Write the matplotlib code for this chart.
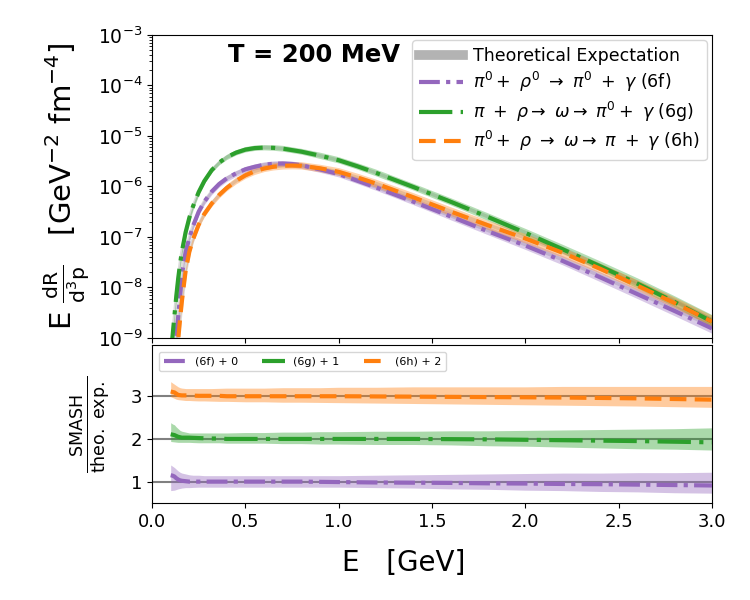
import numpy as np
import matplotlib
matplotlib.use("Agg")
import matplotlib.pyplot as plt
from matplotlib.lines import Line2D

# ---------------- data ----------------
E = [0.10, 0.11, 0.12, 0.13, 0.14, 0.15, 0.16, 0.18, 0.20, 0.22, 0.25, 0.28,
     0.32, 0.36, 0.40, 0.45, 0.50, 0.55, 0.60, 0.65, 0.70, 0.75, 0.80, 0.90,
     1.00, 1.10, 1.20, 1.40, 1.60, 1.80, 2.00, 2.20, 2.40, 2.60, 2.80, 3.00]

# log10 of theoretical rate E dR/d^3p
log_theo_6f = [-10.5, -9.9, -9.4, -9.0, -8.6, -8.2, -7.75, -7.3, -7.02, -6.78,
               -6.50, -6.30, -6.10, -5.95, -5.84, -5.74, -5.66, -5.61, -5.57,
               -5.55, -5.545, -5.555, -5.58, -5.66, -5.75, -5.88, -6.01, -6.29,
               -6.58, -6.87, -7.15, -7.45, -7.77, -8.10, -8.43, -8.77]
log_theo_6g = [-9.4, -9.0, -8.6, -8.2, -7.85, -7.55, -7.3, -6.92, -6.63, -6.40,
               -6.12, -5.90, -5.68, -5.53, -5.42, -5.33, -5.27, -5.24, -5.23,
               -5.235, -5.25, -5.28, -5.31, -5.39, -5.48, -5.60, -5.73, -6.01,
               -6.30, -6.60, -6.91, -7.23, -7.56, -7.90, -8.26, -8.64]
log_theo_6h = [-11.0, -10.5, -10.0, -9.5, -9.05, -8.65, -8.28, -7.68, -7.30,
               -7.05, -6.76, -6.55, -6.34, -6.17, -6.03, -5.89, -5.78, -5.70,
               -5.645, -5.61, -5.59, -5.585, -5.59, -5.64, -5.71, -5.82, -5.94,
               -6.21, -6.49, -6.76, -7.02, -7.30, -7.61, -7.94, -8.28, -8.64]

# SMASH / theory ratio and its error band
ratio_6f = [1.15, 1.14, 1.12, 1.08, 1.05, 1.03, 1.02, 1.01, 1.0, 1.0,
            1.0, 1.0, 1.0, 1.0, 1.0, 1.0, 1.0, 1.0, 1.0, 1.0, 1.0, 1.0, 1.0,
            0.995, 0.99, 0.985, 0.98, 0.975, 0.97, 0.96, 0.955, 0.945, 0.94,
            0.93, 0.92, 0.91]
hi_6f = [1.39, 1.36, 1.33, 1.29, 1.25, 1.22, 1.20, 1.18, 1.16, 1.15,
         1.15, 1.14, 1.14, 1.14, 1.14, 1.14, 1.14, 1.14, 1.14, 1.14, 1.14,
         1.14, 1.14, 1.14, 1.14, 1.145, 1.15, 1.16, 1.17, 1.18, 1.19, 1.20,
         1.20, 1.21, 1.21, 1.22]
lo_6f = [0.79, 0.795, 0.80, 0.815, 0.83, 0.84, 0.85, 0.86, 0.86, 0.865,
         0.87, 0.87, 0.87, 0.87, 0.87, 0.87, 0.87, 0.87, 0.87, 0.87, 0.87,
         0.87, 0.87, 0.87, 0.87, 0.865, 0.86, 0.85, 0.83, 0.82, 0.80, 0.79,
         0.77, 0.76, 0.74, 0.73]

ratio_6g = [1.11, 1.10, 1.09, 1.07, 1.05, 1.04, 1.03, 1.03, 1.03, 1.025,
            1.02, 1.015, 1.01, 1.01, 1.0, 1.0, 1.0, 1.0, 1.0, 1.0, 1.0, 1.0,
            1.0, 1.0, 1.0, 1.0, 1.0, 1.0, 0.995, 0.99, 0.98, 0.97, 0.96, 0.95,
            0.935, 0.92]
hi_6g = [1.38, 1.35, 1.33, 1.28, 1.24, 1.20, 1.18, 1.16, 1.14, 1.14,
         1.14, 1.14, 1.14, 1.14, 1.14, 1.145, 1.15, 1.15, 1.15, 1.155, 1.16,
         1.16, 1.16, 1.17, 1.17, 1.175, 1.18, 1.18, 1.19, 1.19, 1.20, 1.21,
         1.22, 1.23, 1.24, 1.26]
lo_6g = [0.94, 0.935, 0.93, 0.925, 0.92, 0.92, 0.92, 0.92, 0.92, 0.915,
         0.91, 0.91, 0.91, 0.91, 0.90, 0.90, 0.90, 0.90, 0.90, 0.895, 0.89,
         0.89, 0.89, 0.88, 0.88, 0.875, 0.87, 0.87, 0.86, 0.84, 0.83, 0.81,
         0.79, 0.77, 0.76, 0.74]

ratio_6h = [1.11, 1.10, 1.09, 1.06, 1.03, 1.025, 1.02, 1.02, 1.02, 1.015,
            1.01, 1.01, 1.01, 1.01, 1.0, 1.0, 1.0, 1.0, 1.0, 1.0, 1.0, 1.0,
            1.0, 1.0, 1.0, 0.998, 0.995, 0.99, 0.985, 0.98, 0.975, 0.97, 0.96,
            0.95, 0.935, 0.92]
hi_6h = [1.34, 1.31, 1.28, 1.25, 1.22, 1.20, 1.19, 1.18, 1.18, 1.18,
         1.18, 1.18, 1.18, 1.185, 1.19, 1.19, 1.19, 1.19, 1.19, 1.195, 1.20,
         1.20, 1.20, 1.20, 1.21, 1.21, 1.21, 1.22, 1.22, 1.22, 1.22, 1.23,
         1.23, 1.23, 1.23, 1.23]
lo_6h = [0.99, 0.97, 0.95, 0.93, 0.92, 0.915, 0.91, 0.90, 0.90, 0.895,
         0.89, 0.89, 0.885, 0.88, 0.88, 0.875, 0.87, 0.87, 0.87, 0.865, 0.86,
         0.86, 0.86, 0.855, 0.85, 0.845, 0.84, 0.83, 0.82, 0.81, 0.80, 0.79,
         0.78, 0.77, 0.755, 0.74]

offsets = [0, 1, 2]
labels_top = [r'$\pi^0 +\ \rho^0\ \rightarrow\ \pi^0\ +\ \gamma$ (6f)',
              r'$\pi\ +\ \rho \rightarrow\ \omega \rightarrow\ \pi^0 +\ \gamma$ (6g)',
              r'$\pi^0 +\ \rho\ \rightarrow\ \omega \rightarrow\ \pi\ +\ \gamma$ (6h)']
labels_ratio = ['(6f) + 0', '(6g) + 1', '(6h) + 2']

# ---------------- styling ----------------
colors = ['#9467bd', '#2ca02c', '#ff7f0e']
styles = [(0, (5, 1.5, 1, 1.5)), (0, (8, 2, 1, 2)), (0, (4, 2))]

fig = plt.figure(figsize=(7.5, 6), dpi=100)
ax1 = fig.add_axes([0.2027, 0.4367, 0.7466, 0.505])
ax2 = fig.add_axes([0.2027, 0.1617, 0.7466, 0.2633], sharex=ax1)

Earr = np.array(E)
theo = [10 ** np.array(v) for v in (log_theo_6f, log_theo_6g, log_theo_6h)]
ratios = [np.array(v) for v in (ratio_6f, ratio_6g, ratio_6h)]
his = [np.array(v) for v in (hi_6f, hi_6g, hi_6h)]
los = [np.array(v) for v in (lo_6f, lo_6g, lo_6h)]

for i in range(3):
    ax1.plot(Earr, theo[i], color='0.6', lw=2.5, alpha=0.35, zorder=1)
    ax1.fill_between(Earr, theo[i] * los[i], theo[i] * his[i],
                     color=colors[i], alpha=0.35, lw=0, zorder=2)
    ax1.plot(Earr, theo[i] * ratios[i], color=colors[i], lw=3,
             linestyle=styles[i], zorder=3)

ax1.set_yscale('log')
ax1.set_ylim(1e-9, 1e-3)
ax1.set_xlim(0, 3)
ax1.tick_params(labelbottom=False, labelsize=13.5)
ax1.set_ylabel(r'E $\frac{\mathrm{dR}}{\mathrm{d}^3\mathrm{p}}$   [GeV$^{-2}$ fm$^{-4}$]',
               fontsize=21, labelpad=4)
ax1.text(0.136, 0.934, 'T = 200 MeV', transform=ax1.transAxes,
         fontsize=17.5, fontweight='bold', va='center')

handles = [Line2D([0], [0], color='0.7', lw=7)]
for i in range(3):
    handles.append(Line2D([0], [0], color=colors[i], lw=3, linestyle=styles[i]))
ax1.legend(handles, ['Theoretical Expectation'] + labels_top, loc='upper right',
           fontsize=12.5, handlelength=2.5, handletextpad=0.6,
           borderaxespad=0.3, labelspacing=0.3)

for i in range(3):
    ax2.axhline(1 + offsets[i], color='0.5', lw=1.5, zorder=1)
    ax2.fill_between(Earr, los[i] + offsets[i], his[i] + offsets[i],
                     color=colors[i], alpha=0.4, lw=0, zorder=2)
    ax2.plot(Earr, ratios[i] + offsets[i], color=colors[i], lw=3,
             linestyle=styles[i], label=labels_ratio[i], zorder=3)

ax2.set_ylim(0.5, 4.2)
ax2.set_yticks([1, 2, 3])
ax2.set_xticks([0.0, 0.5, 1.0, 1.5, 2.0, 2.5, 3.0])
ax2.tick_params(labelsize=13)
ax2.set_ylabel(r'$\frac{\mathrm{SMASH}}{\mathrm{theo.\ exp.}}$', fontsize=18,
               labelpad=13)
ax2.set_xlabel('E   [GeV]', fontsize=20)
ax2.xaxis.set_label_coords(0.45, -0.29)
ax2.legend(loc='upper left', ncol=3, fontsize=8, handlelength=2.0,
           columnspacing=2.2, borderaxespad=0.65)

fig.savefig('out.png', dpi=100)
